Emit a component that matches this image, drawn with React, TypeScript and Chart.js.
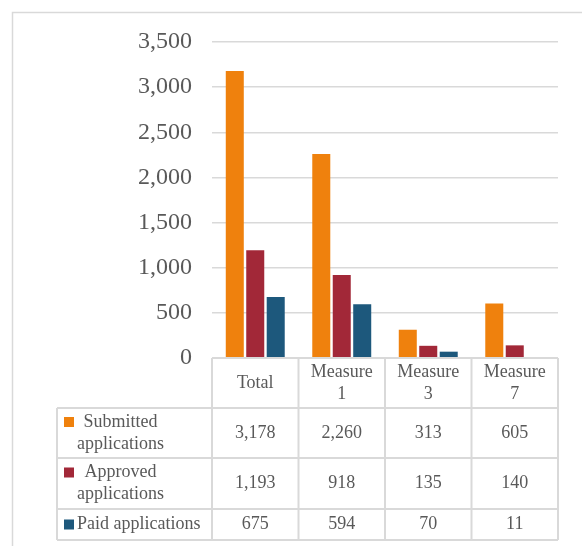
import React, { useEffect, useRef } from "react";
import { Chart, registerables } from "chart.js";

Chart.register(...registerables);

// Categories (header lines as shown in the table)
const categoryLines: string[][] = [["Total"], ["Measure", "1"], ["Measure", "3"], ["Measure", "7"]];

// Series values
const submitted = [3178, 2260, 313, 605];
const approved = [1193, 918, 135, 140];
const paid = [675, 594, 70, 11];

// Series names (wrapped for the table legend column)
const seriesLines: string[][] = [["Submitted", "applications"], ["Approved", "applications"], ["Paid applications"]];
const seriesColors = ["#EF810D", "#A22838", "#1D587C"];

// Y axis ticks
const yMin = 0;
const yMax = 3500;
const yStep = 500;

const FONT = "'Liberation Serif', 'Times New Roman', serif";
const TEXT = "#595959";
const LINE = "#d9d9d9";

const fmt = (v: number) => v.toLocaleString("en-US");

const tablePlugin = {
  id: "dataTable",
  beforeDraw(chart: any) {
    const ctx = chart.ctx as CanvasRenderingContext2D;
    ctx.save();
    ctx.fillStyle = "#ffffff";
    ctx.fillRect(0, 0, chart.width, chart.height);
    // outer frame
    ctx.strokeStyle = LINE;
    ctx.lineWidth = 1.5;
    ctx.beginPath();
    ctx.moveTo(12.5, chart.height);
    ctx.lineTo(12.5, 12.5);
    ctx.lineTo(chart.width, 12.5);
    ctx.stroke();
    ctx.restore();
  },
  afterDraw(chart: any) {
    const ctx = chart.ctx as CanvasRenderingContext2D;
    const { left, right, bottom } = chart.chartArea;
    const n = categoryLines.length;
    const colW = (right - left) / n;
    const legendLeft = 57;
    const rowH = [50, 50, 51, 31];
    const rowTop: number[] = [bottom];
    for (let i = 0; i < rowH.length; i++) rowTop.push(rowTop[i] + rowH[i]);
    const tableBottom = rowTop[rowH.length];

    ctx.save();
    ctx.strokeStyle = LINE;
    ctx.lineWidth = 2;
    ctx.beginPath();
    // horizontal lines
    ctx.moveTo(left, rowTop[0]);
    ctx.lineTo(right, rowTop[0]);
    for (let i = 1; i <= rowH.length; i++) {
      ctx.moveTo(legendLeft, rowTop[i]);
      ctx.lineTo(right, rowTop[i]);
    }
    // vertical lines
    for (let c = 0; c <= n; c++) {
      const x = left + c * colW;
      ctx.moveTo(x, rowTop[0]);
      ctx.lineTo(x, tableBottom);
    }
    ctx.moveTo(legendLeft, rowTop[1]);
    ctx.lineTo(legendLeft, tableBottom);
    ctx.stroke();

    ctx.fillStyle = TEXT;
    ctx.font = `18px ${FONT}`;
    ctx.textAlign = "center";
    ctx.textBaseline = "middle";
    const lh = 22;

    // header
    categoryLines.forEach((lines, c) => {
      const cx = left + (c + 0.5) * colW;
      const cy = (rowTop[0] + rowTop[1]) / 2;
      lines.forEach((t, k) => {
        ctx.fillText(t, cx, cy + (k - (lines.length - 1) / 2) * lh);
      });
    });

    const series = [submitted, approved, paid];
    series.forEach((vals, r) => {
      const cy = (rowTop[r + 1] + rowTop[r + 2]) / 2;
      vals.forEach((v, c) => {
        ctx.textAlign = "center";
        ctx.fillText(fmt(v), left + (c + 0.5) * colW, cy);
      });
      // legend key and name
      const lines = seriesLines[r];
      const firstY = cy - ((lines.length - 1) / 2) * lh;
      ctx.fillStyle = seriesColors[r];
      ctx.fillRect(legendLeft + 7, firstY - 5, 10, 10);
      ctx.fillStyle = TEXT;
      const textLeft = legendLeft + 20;
      const w = Math.max(...lines.map((t) => ctx.measureText(t).width));
      lines.forEach((t, k) => {
        ctx.textAlign = "center";
        ctx.fillText(t, textLeft + w / 2, firstY + k * lh);
      });
    });
    ctx.restore();
  },
};

export default function App() {
  const ref = useRef<HTMLCanvasElement>(null);
  useEffect(() => {
    if (!ref.current) return;
    const chart = new Chart(ref.current, {
      type: "bar",
      data: {
        labels: categoryLines.map((l) => l.join(" ")),
        datasets: [
          { label: seriesLines[0].join(" "), data: submitted, backgroundColor: seriesColors[0] },
          { label: seriesLines[1].join(" "), data: approved, backgroundColor: seriesColors[1] },
          { label: seriesLines[2].join(" "), data: paid, backgroundColor: seriesColors[2] },
        ],
      },
      options: {
        responsive: false,
        animation: false,
        datasets: { bar: { categoryPercentage: 0.71, barPercentage: 0.88, minBarLength: 1 } },
        layout: { padding: { left: 0, right: 24, top: 42, bottom: 188 } },
        plugins: { legend: { display: false }, tooltip: { enabled: false } },
        scales: {
          x: { display: false },
          y: {
            min: yMin,
            max: yMax,
            afterFit: (s: any) => {
              s.width = 212;
            },
            ticks: {
              stepSize: yStep,
              padding: 20,
              color: TEXT,
              font: { family: FONT, size: 24 },
              callback: (v: any) => fmt(Number(v)),
            },
            grid: { color: LINE, lineWidth: 1.5, drawTicks: false },
            border: { display: false },
          },
        },
      },
      plugins: [tablePlugin],
    });
    return () => chart.destroy();
  }, []);
  return (
    <div style={{ position: "absolute", left: 0, top: 0, width: 582, height: 546 }}>
      <canvas ref={ref} width={582} height={546} />
    </div>
  );
}
